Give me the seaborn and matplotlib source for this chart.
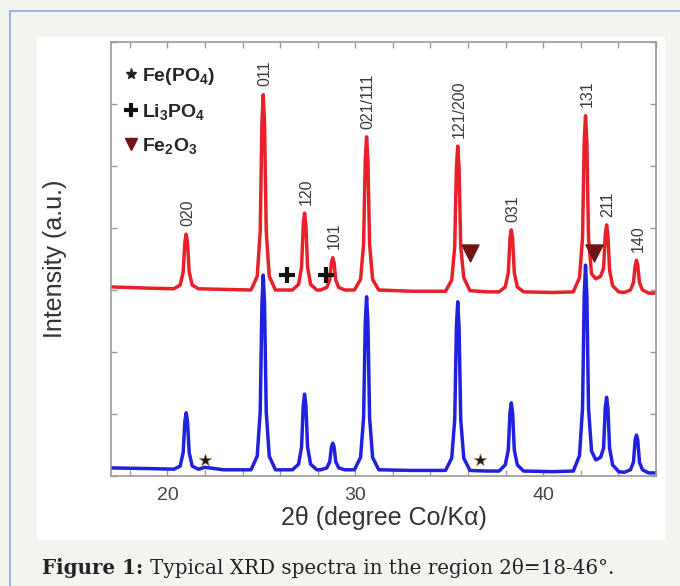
import matplotlib
matplotlib.use("Agg")
import matplotlib.pyplot as plt
from matplotlib.lines import Line2D
from matplotlib.patches import Rectangle
import seaborn as sns
import pandas as pd

# --- data (2theta in degrees, intensity in arbitrary units) ---
hkl_labels = ["020", "011", "120", "101", "021/111", "121/200", "031", "131", "211", "140"]
peak_2theta = [21.0, 25.1, 27.3, 28.8, 30.6, 35.45, 38.3, 42.25, 43.37, 44.96]
red_top = [3.90, 6.15, 4.24, 3.52, 5.47, 5.32, 3.97, 5.81, 4.05, 3.48]

red_2theta = [
    17.0, 19.0,
    20.35, 20.68, 20.84, 20.93, 21.0, 21.07, 21.16, 21.32, 21.65,
    23.0,
    24.45, 24.78, 24.94, 25.03, 25.1, 25.17, 25.26, 25.42, 25.75,
    26.65, 26.98, 27.14, 27.23, 27.3, 27.37, 27.46, 27.62, 27.95,
    28.15, 28.48, 28.64, 28.73, 28.8, 28.87, 28.96, 29.12, 29.45,
    29.95, 30.28, 30.44, 30.53, 30.6, 30.67, 30.76, 30.92, 31.25,
    33.0,
    34.8, 35.13, 35.29, 35.38, 35.45, 35.52, 35.61, 35.77, 36.1,
    37.0,
    37.65, 37.98, 38.14, 38.23, 38.3, 38.37, 38.46, 38.62, 38.95,
    40.5,
    41.6, 41.93, 42.09, 42.18, 42.25, 42.32, 42.41, 42.57,
    42.8,
    43.05, 43.21, 43.30, 43.37, 43.44, 43.53, 43.69, 44.02,
    44.31, 44.64, 44.80, 44.89, 44.96, 45.03, 45.12, 45.28, 45.61,
    46.0,
]
red_intensity = [
    3.05, 3.03,
    3.02, 3.08, 3.29, 3.77, 3.90, 3.77, 3.29, 3.08, 3.02,
    3.01,
    3.0, 3.22, 3.95, 5.68, 6.15, 5.68, 3.95, 3.22, 3.0,
    3.0, 3.09, 3.37, 4.05, 4.24, 4.05, 3.37, 3.09, 3.0,
    3.0, 3.04, 3.16, 3.44, 3.52, 3.44, 3.16, 3.04, 3.0,
    3.0, 3.17, 3.74, 5.10, 5.47, 5.10, 3.74, 3.17, 3.0,
    2.98,
    2.98, 3.16, 3.70, 4.97, 5.32, 4.97, 3.70, 3.20, 2.99,
    2.97,
    2.97, 3.05, 3.28, 3.83, 3.97, 3.83, 3.28, 3.05, 2.97,
    2.96,
    2.97, 3.20, 3.84, 5.39, 5.81, 5.39, 3.84, 3.26,
    3.18,
    3.22, 3.35, 3.89, 4.05, 3.89, 3.32, 3.07, 2.97,
    2.96, 3.0, 3.12, 3.39, 3.48, 3.39, 3.12, 3.0, 2.95,
    2.95,
]

blue_2theta = [
    17.0, 19.0,
    20.35, 20.68, 20.84, 20.93, 21.0, 21.07, 21.16, 21.32, 21.65,
    22.0, 23.0,
    24.45, 24.78, 24.94, 25.03, 25.1, 25.17, 25.26, 25.42, 25.75,
    26.65, 26.98, 27.14, 27.23, 27.3, 27.37, 27.46, 27.62, 27.95,
    28.15, 28.48, 28.64, 28.73, 28.8, 28.87, 28.96, 29.12, 29.45,
    29.95, 30.28, 30.44, 30.53, 30.6, 30.67, 30.76, 30.92, 31.25,
    33.0,
    34.8, 35.13, 35.29, 35.38, 35.45, 35.52, 35.61, 35.77, 36.1,
    37.0,
    37.65, 37.98, 38.14, 38.23, 38.3, 38.37, 38.46, 38.62, 38.95,
    40.5,
    41.6, 41.93, 42.09, 42.18, 42.25, 42.32, 42.41, 42.57,
    42.8,
    43.05, 43.21, 43.30, 43.37, 43.44, 43.53, 43.69, 44.02,
    44.31, 44.64, 44.80, 44.89, 44.96, 45.03, 45.12, 45.28, 45.61,
    46.0,
]
blue_intensity = [
    0.13, 0.12,
    0.11, 0.16, 0.38, 0.88, 1.02, 0.88, 0.38, 0.16, 0.11,
    0.14, 0.10,
    0.10, 0.32, 1.04, 2.77, 3.24, 2.77, 1.04, 0.32, 0.10,
    0.10, 0.19, 0.47, 1.14, 1.32, 1.14, 0.47, 0.19, 0.10,
    0.10, 0.13, 0.23, 0.47, 0.53, 0.47, 0.23, 0.13, 0.10,
    0.10, 0.30, 0.94, 2.47, 2.89, 2.47, 0.94, 0.30, 0.10,
    0.09,
    0.09, 0.29, 0.91, 2.40, 2.81, 2.40, 0.91, 0.29, 0.09,
    0.08,
    0.08, 0.18, 0.42, 1.02, 1.18, 1.02, 0.42, 0.18, 0.08,
    0.07,
    0.08, 0.33, 1.09, 2.91, 3.40, 2.91, 1.09, 0.40,
    0.26,
    0.30, 0.45, 1.10, 1.27, 1.10, 0.45, 0.18, 0.07,
    0.06, 0.10, 0.22, 0.58, 0.66, 0.58, 0.22, 0.10, 0.05,
    0.05,
]

# impurity markers
star_2theta = [22.0, 36.65]
star_y = [0.26, 0.26]
plus_2theta = [26.35, 28.45]
plus_y = [3.24, 3.24]
tri_2theta = [36.1, 42.7]
tri_y = [3.6, 3.6]

x_ticks = list(range(18, 47, 2))
x_ticklabels = ["" if t not in (20, 30, 40) else str(t) for t in x_ticks]

RED = "#e8202a"
BLUE = "#2020e0"
DARKRED = "#6e1414"

sns.set_style("white")
plt.rcParams["font.family"] = ["Liberation Sans", "DejaVu Sans"]
plt.rcParams["mathtext.fontset"] = "custom"
plt.rcParams["mathtext.rm"] = "Liberation Sans:bold"
plt.rcParams["mathtext.it"] = "Liberation Sans:bold"
plt.rcParams["mathtext.bf"] = "Liberation Sans:bold"

fig = plt.figure(figsize=(6.8, 5.86), dpi=100, facecolor="#f3f3ef")

# page decoration: white panel + light blue frame lines
fig.patches.append(Rectangle((37 / 680, 1 - 540 / 586), 628 / 680, 503 / 586,
                             transform=fig.transFigure, facecolor="white",
                             edgecolor="none", zorder=-10))
fig.add_artist(Line2D([10 / 680, 10 / 680], [0, 1 - 11 / 586], transform=fig.transFigure,
                      color="#86a9e0", lw=1.2))
fig.add_artist(Line2D([10 / 680, 1], [1 - 11 / 586, 1 - 11 / 586], transform=fig.transFigure,
                      color="#86a9e0", lw=1.2))

ax = fig.add_axes([111 / 680, 1 - 476 / 586, 545 / 680, 434 / 586])
ax.set_zorder(5)
ax.set_facecolor("white")

df = pd.concat([
    pd.DataFrame({"two_theta": red_2theta, "intensity": red_intensity, "sample": "red"}),
    pd.DataFrame({"two_theta": blue_2theta, "intensity": blue_intensity, "sample": "blue"}),
])
sns.lineplot(data=df, x="two_theta", y="intensity", hue="sample",
             palette={"red": RED, "blue": BLUE}, estimator=None, sort=False,
             legend=False, lw=2.5, ax=ax)

sns.scatterplot(x=star_2theta, y=star_y, marker="*", s=90, color="#1a1a1a",
                edgecolor="#b08040", linewidth=0.4, ax=ax, zorder=5)
sns.scatterplot(x=plus_2theta, y=plus_y, marker="+", s=140, color="#111111",
                linewidth=3, ax=ax, zorder=5)
sns.scatterplot(x=tri_2theta, y=tri_y, marker="v", s=150, color=DARKRED,
                edgecolor=DARKRED, ax=ax, zorder=5)

# hkl labels above the red peaks
for lab, x, y in zip(hkl_labels, peak_2theta, red_top):
    ax.annotate(lab, (x, y), xytext=(1, 6), textcoords="offset points",
                rotation=90, ha="center", va="bottom", fontsize=11.5, color="#3a3a3a")

ax.set_xlim(17.0, 46.0)
ax.set_ylim(0, 7)
ax.set_xticks(x_ticks)
ax.set_xticklabels(x_ticklabels)
ax.set_yticks(range(0, 8))
ax.set_yticklabels([])
ax.tick_params(axis="both", direction="in", length=4, width=1, color="#999999",
               top=True, right=True, bottom=True, left=True,
               labelsize=14, labelcolor="#444444", pad=8)
for sp in ax.spines.values():
    sp.set_color("#999999")
    sp.set_linewidth(1.2)

ax.set_xlabel("2θ (degree Co/Kα)", fontsize=18, color="#333333", labelpad=1)
ax.set_ylabel("Intensity (a.u.)", fontsize=18, color="#333333", labelpad=24)

handles = [
    Line2D([], [], marker="*", color="#222222", ls="none", markersize=8),
    Line2D([], [], marker="+", color="#111111", ls="none", markersize=10, markeredgewidth=3),
    Line2D([], [], marker="v", color=DARKRED, ls="none", markersize=8),
]
labels = [r"Fe(PO$_4$)", r"Li$_3$PO$_4$", r"Fe$_2$O$_3$"]
ax.legend(handles, labels, loc="upper left", bbox_to_anchor=(-0.01, 0.985), frameon=False,
          handlelength=0.8, handletextpad=0.2, labelspacing=0.75,
          prop={"size": 14, "weight": "bold"})

fig.text(42 / 680, 1 - 568 / 586, "Figure 1:", fontsize=14.3, fontweight="bold",
         family=["DejaVu Serif"], color="#222222", va="center")
fig.text(150 / 680, 1 - 568 / 586, "Typical XRD spectra in the region 2θ=18-46°.",
         fontsize=14.3, family=["DejaVu Serif"], color="#222222", va="center")

fig.savefig("out.png", dpi=100, facecolor=fig.get_facecolor())
